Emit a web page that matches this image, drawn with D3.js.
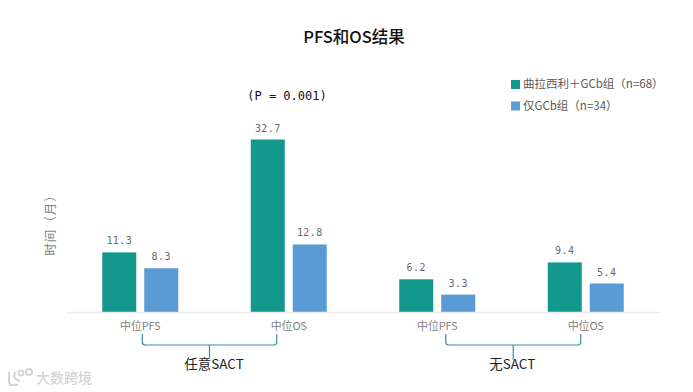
<!DOCTYPE html>
<html>
<head>
<meta charset="utf-8">
<script src="https://cdn.jsdelivr.net/npm/d3@7"></script>
<style>
body { margin: 0; background: #fff; }
text { font-family: "Noto Sans CJK SC", Roboto, sans-serif; }
.vals { font-family: "DejaVu Sans Mono", "Noto Sans CJK SC"; }
</style>
</head>
<body>
<div id="chart"></div>
<script>
const categories = ["中位PFS", "中位OS", "中位PFS", "中位OS"];
const seriesNames = ["曲拉西利＋GCb组（n=68）", "仅GCb组（n=34）"];
const trilaciclib = [11.3, 32.7, 6.2, 9.4];
const gcbOnly = [8.3, 12.8, 3.3, 5.4];
const groupNames = ["任意SACT", "无SACT"];
const colors = ["#12988c", "#5b9bd5"];

const width = 693, height = 392;
const svg = d3.select("#chart").append("svg")
    .attr("width", width)
    .attr("height", height)
    .style("display", "block");

const baseline = 312;
const xScale = d3.scaleBand().domain(d3.range(categories.length)).range([66, 660]);
const seriesScale = d3.scaleBand().domain([0, 1]).range([-38, 38]).paddingInner(0.19);
const yScale = d3.scaleLinear().domain([0, 32.7]).range([baseline, 139.5]);
const mid = i => xScale(i) + xScale.bandwidth() / 2;

svg.append("text").attr("x", 354).attr("y", 43)
    .attr("text-anchor", "middle")
    .attr("font-size", 16.5).attr("font-weight", 500).attr("fill", "#111")
    .text("PFS和OS结果");

svg.append("text").attr("x", 287).attr("y", 100)
    .attr("class", "vals")
    .attr("text-anchor", "middle")
    .attr("font-size", 12).attr("fill", "#111")
    .text("(P = 0.001)");

svg.append("text")
    .attr("transform", "translate(52,222) rotate(-90)")
    .attr("text-anchor", "middle")
    .attr("dominant-baseline", "middle")
    .attr("font-size", 12.5).attr("fill", "#7f7f7f").attr("letter-spacing", 1)
    .text("时间（月）");

// bars and value labels
[trilaciclib, gcbOnly].forEach(function(values, s) {
    let g = svg.append("g");
    g.selectAll("rect").data(values).enter().append("rect")
        .attr("x", (d, i) => mid(i) + seriesScale(s))
        .attr("y", d => yScale(d))
        .attr("width", seriesScale.bandwidth())
        .attr("height", d => baseline - yScale(d))
        .attr("fill", colors[s]);
    g.selectAll("text").data(values).enter().append("text")
        .attr("class", "vals")
        .attr("x", (d, i) => mid(i) + seriesScale(s) + seriesScale.bandwidth() / 2)
        .attr("y", d => yScale(d) - 8)
        .attr("text-anchor", "middle")
        .attr("font-size", 10).attr("fill", "#6a6a6a").attr("letter-spacing", 0.4)
        .text(d3.format(".1f"));
});

// x axis
let xAxis = svg.append("g")
    .attr("transform", "translate(0," + baseline + ")")
    .call(d3.axisBottom(xScale).tickSize(0).tickPadding(10).tickFormat(i => categories[i]));
xAxis.select(".domain").attr("stroke", "#ececec").attr("stroke-width", 1.5);
xAxis.selectAll("text")
    .style("font-family", '"Noto Sans CJK SC", Roboto, sans-serif')
    .attr("font-size", 11).attr("letter-spacing", -0.2).attr("fill", "#7f7f7f");

// group brackets under the axis, ends sit a little inside the two tick labels
groupNames.forEach(function(name, k) {
    let x0 = mid(k * 2) + (k ? 8.5 : 2), x1 = mid(k * 2 + 1) - (k ? 5 : 12), c = (x0 + x1) / 2;
    let top = 334, bar = 345, r = 3;
    svg.append("path")
        .attr("d", "M" + x0 + "," + top + "V" + (bar - r) + "Q" + x0 + "," + bar + " " + (x0 + r) + "," + bar
            + "H" + (x1 - r) + "Q" + x1 + "," + bar + " " + x1 + "," + (bar - r) + "V" + top
            + "M" + c + "," + bar + "V" + 360)
        .attr("fill", "none").attr("stroke", "#3d8ba8").attr("stroke-width", 1.2);
    svg.append("text").attr("x", c + (k ? -1 : 4.5)).attr("y", 369)
        .attr("text-anchor", "middle")
        .attr("font-size", 13.5).attr("fill", "#222")
        .style("paint-order", "stroke").attr("stroke", "#fff").attr("stroke-width", 1)
        .text(name);
});

// legend
let legend = svg.selectAll(".legend").data(seriesNames).enter().append("g")
    .attr("class", "legend")
    .attr("transform", (d, i) => "translate(511," + (85 + i * 21.5) + ")");
legend.append("rect").attr("x", 0).attr("y", -5).attr("width", 9).attr("height", 9)
    .attr("fill", (d, i) => colors[i]);
legend.append("text").attr("x", 12).attr("y", 0)
    .attr("dominant-baseline", "middle")
    .attr("font-size", 11.5).attr("fill", "#595959")
    .text(d => d);

// watermark
let mark = svg.append("g").attr("fill", "none").attr("stroke", "#d4d4d4").attr("stroke-width", 2);
mark.append("path").attr("d", "M9,372V382Q9,385 12,385H18M15,372Q12,379 20,381");
mark.append("circle").attr("cx", 21).attr("cy", 373).attr("r", 2.5);
mark.append("circle").attr("cx", 29).attr("cy", 372).attr("r", 3);
svg.append("text").attr("x", 36).attr("y", 383)
    .attr("font-size", 14).attr("font-weight", 500).attr("fill", "#d4d4d4")
    .text("大数跨境");
</script>
</body>
</html>
